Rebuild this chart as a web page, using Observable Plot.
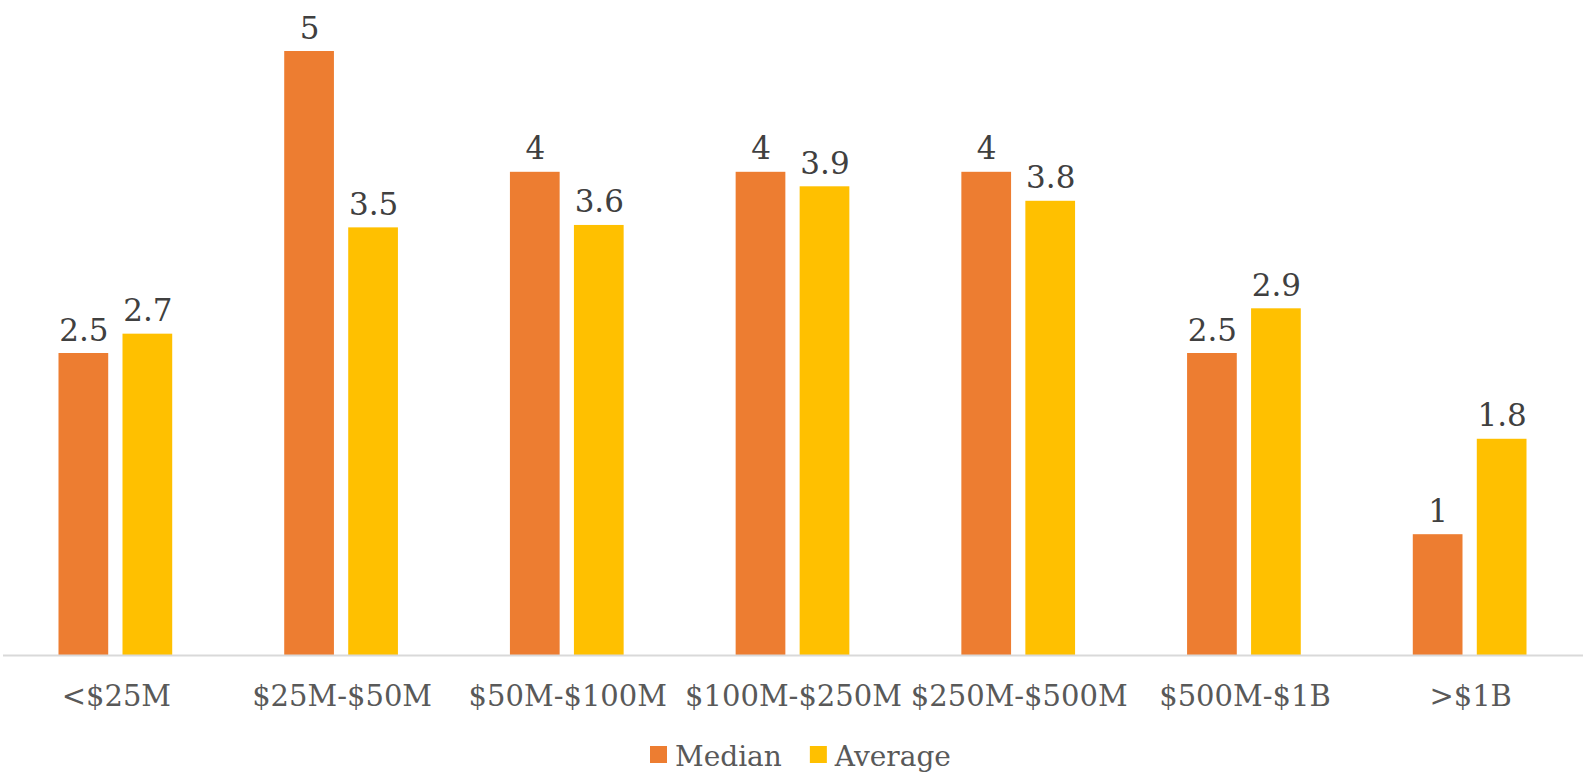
<!DOCTYPE html>
<html>
<head>
<meta charset="utf-8">
<script src="https://cdn.jsdelivr.net/npm/d3@7"></script>
<script src="https://cdn.jsdelivr.net/npm/@observablehq/plot@0.6"></script>
<style>
  html, body { margin: 0; padding: 0; background: #fff; }
  #wrap { width: 1589px; height: 779px; font-family: "DejaVu Serif", serif; }
  #chart svg, #legend svg { display: block; }
</style>
</head>
<body>
<div id="wrap">
  <div id="chart"></div>
  <div id="legend"></div>
</div>
<script>
const categories = ["<$25M", "$25M-$50M", "$50M-$100M", "$100M-$250M", "$250M-$500M", "$500M-$1B", ">$1B"];
const medianValues = [2.5, 5, 4, 4, 4, 2.5, 1];
const averageValues = [2.66, 3.54, 3.56, 3.88, 3.76, 2.87, 1.79];
const seriesNames = ["Median", "Average"];
const seriesColors = ["#ED7D31", "#FFC000"];

const medianData = categories.map((c, i) => ({category: c, value: medianValues[i]}));
const averageData = categories.map((c, i) => ({category: c, value: averageValues[i]}));
const fmt = v => String(+v.toFixed(1));

const barOpts = {insetLeft: 88, insetRight: 88};

const chart = Plot.plot({
  width: 1589,
  height: 730,
  marginLeft: 3,
  marginRight: 6,
  marginTop: 51,
  marginBottom: 75,
  style: {fontFamily: "DejaVu Serif", fontSize: "29px", color: "#595959", background: "#fff"},
  x: {domain: categories, padding: 0, round: false, tickSize: 0, tickPadding: 30, label: null},
  y: {domain: [0, 5], axis: null},
  marks: [
    Plot.barY(medianData, {x: "category", y: "value", fill: seriesColors[0], dx: -32.5, ...barOpts}),
    Plot.barY(averageData, {x: "category", y: "value", fill: seriesColors[1], dx: 31.5, ...barOpts}),
    Plot.ruleY([0], {stroke: "#D9D9D9", strokeWidth: 2}),
    Plot.text(medianData, {x: "category", y: "value", text: d => fmt(d.value), dx: -32.5, dy: -13, lineAnchor: "bottom", fontSize: 31, fill: "#404040"}),
    Plot.text(averageData, {x: "category", y: "value", text: d => fmt(d.value), dx: 31.5, dy: -13, lineAnchor: "bottom", fontSize: 31, fill: "#404040"})
  ]
});
document.getElementById("chart").appendChild(chart);

// Legend below the plot
const lsvg = d3.select("#legend").append("svg")
  .attr("width", 1589).attr("height", 49)
  .style("font-family", "DejaVu Serif").style("font-size", "28px");
let xpos = 650;
seriesNames.forEach((name, i) => {
  lsvg.append("rect").attr("x", xpos).attr("y", 16).attr("width", 17).attr("height", 17).attr("fill", seriesColors[i]);
  const t = lsvg.append("text").attr("x", xpos + 25).attr("y", 36).attr("fill", "#595959").text(name);
  xpos = xpos + 25 + t.node().getComputedTextLength() + 28;
});
</script>
</body>
</html>
